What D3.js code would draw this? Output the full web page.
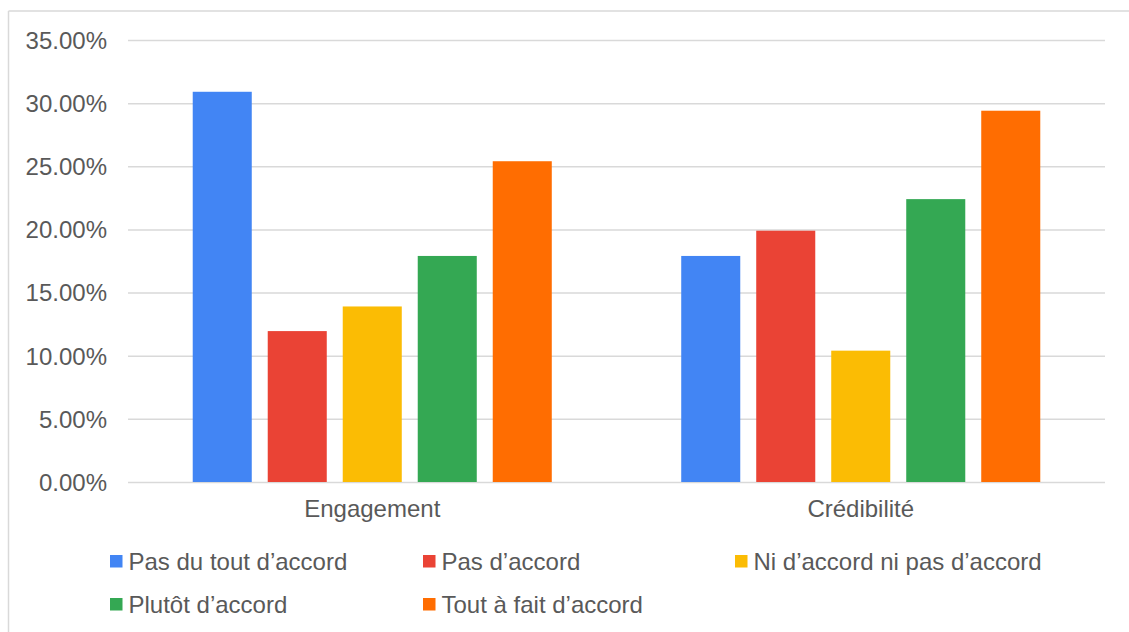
<!DOCTYPE html>
<html>
<head>
<meta charset="utf-8">
<script src="https://cdn.jsdelivr.net/npm/d3@7"></script>
<style>
  html, body { margin: 0; padding: 0; background: #ffffff; }
  svg { display: block; font-family: "Liberation Sans", Arial, sans-serif; }
</style>
</head>
<body>
<svg id="chart" width="1129" height="632"></svg>
<script>
// Survey results by dimension (percent of respondents)
const categories = ["Engagement", "Crédibilité"];
const seriesNames = [
  "Pas du tout d’accord",
  "Pas d’accord",
  "Ni d’accord ni pas d’accord",
  "Plutôt d’accord",
  "Tout à fait d’accord"
];
const pasDuToutDAccord = [30.9, 17.9];
const pasDAccord = [11.95, 19.9];
const niDAccordNiPas = [13.9, 10.4];
const plutotDAccord = [17.9, 22.4];
const toutAFaitDAccord = [25.4, 29.4];
const seriesValues = [pasDuToutDAccord, pasDAccord, niDAccordNiPas, plutotDAccord, toutAFaitDAccord];
const yTicks = [0, 5, 10, 15, 20, 25, 30, 35];
const colors = ["#4285F4", "#EA4335", "#FBBC04", "#34A853", "#FF6D01"];

const svg = d3.select("#chart");
const textColor = "#595959";
const gridColor = "#d9d9d9";
const fontSize = "24px";

// Chart frame (top and left edges visible)
svg.append("line").attr("x1", 8.5).attr("x2", 1129).attr("y1", 11).attr("y2", 11)
  .attr("stroke", gridColor).attr("stroke-width", 1.5);
svg.append("line").attr("x1", 8.5).attr("x2", 8.5).attr("y1", 11).attr("y2", 632)
  .attr("stroke", gridColor).attr("stroke-width", 1.5);

const plot = { left: 128, right: 1105, top: 40, bottom: 482 };

const y = d3.scaleLinear().domain([0, 35]).range([plot.bottom, plot.top]);
const x0 = d3.scaleBand().domain(categories).range([plot.left, plot.right]).padding(0);
const x1 = d3.scaleBand().domain(seriesNames).range([0, x0.bandwidth()])
  .paddingInner(0.213).paddingOuter(0.863);

// Horizontal gridlines and y labels
const yAxis = d3.axisLeft(y).tickValues(yTicks)
  .tickSize(-(plot.right - plot.left))
  .tickFormat(d => d.toFixed(2) + "%");
const gy = svg.append("g").attr("transform", `translate(${plot.left},0)`).call(yAxis);
gy.select(".domain").remove();
gy.selectAll(".tick line").attr("stroke", gridColor).attr("stroke-width", 1.5);
gy.selectAll(".tick text")
  .attr("x", -21).attr("dy", "0.35em")
  .attr("fill", textColor).style("font-size", fontSize);

// Bars
const groups = svg.append("g").selectAll("g")
  .data(categories)
  .join("g")
  .attr("transform", d => `translate(${x0(d)},0)`);

groups.selectAll("rect")
  .data((c, ci) => seriesNames.map((s, si) => ({ s, si, v: seriesValues[si][ci] })))
  .join("rect")
  .attr("x", d => x1(d.s))
  .attr("width", x1.bandwidth())
  .attr("y", d => y(d.v))
  .attr("height", d => y(0) - y(d.v))
  .attr("fill", d => colors[d.si]);

// Category axis labels
const xAxis = d3.axisBottom(x0).tickSize(0);
const gx = svg.append("g").attr("transform", `translate(0,${plot.bottom})`).call(xAxis);
gx.select(".domain").remove();
gx.selectAll(".tick text")
  .attr("y", 35).attr("dy", 0)
  .attr("fill", textColor).style("font-size", fontSize);

// Legend
const legendPos = [
  { x: 110, y: 555 }, { x: 423, y: 555 }, { x: 735, y: 555 },
  { x: 110, y: 598 }, { x: 423, y: 598 }
];
const legend = svg.append("g").selectAll("g")
  .data(seriesNames)
  .join("g")
  .attr("transform", (d, i) => `translate(${legendPos[i].x},${legendPos[i].y})`);
legend.append("rect").attr("width", 12.5).attr("height", 12.5)
  .attr("fill", (d, i) => colors[i]);
legend.append("text").attr("x", 18.5).attr("y", 14.5)
  .attr("fill", textColor).style("font-size", fontSize)
  .text(d => d);
</script>
</body>
</html>
